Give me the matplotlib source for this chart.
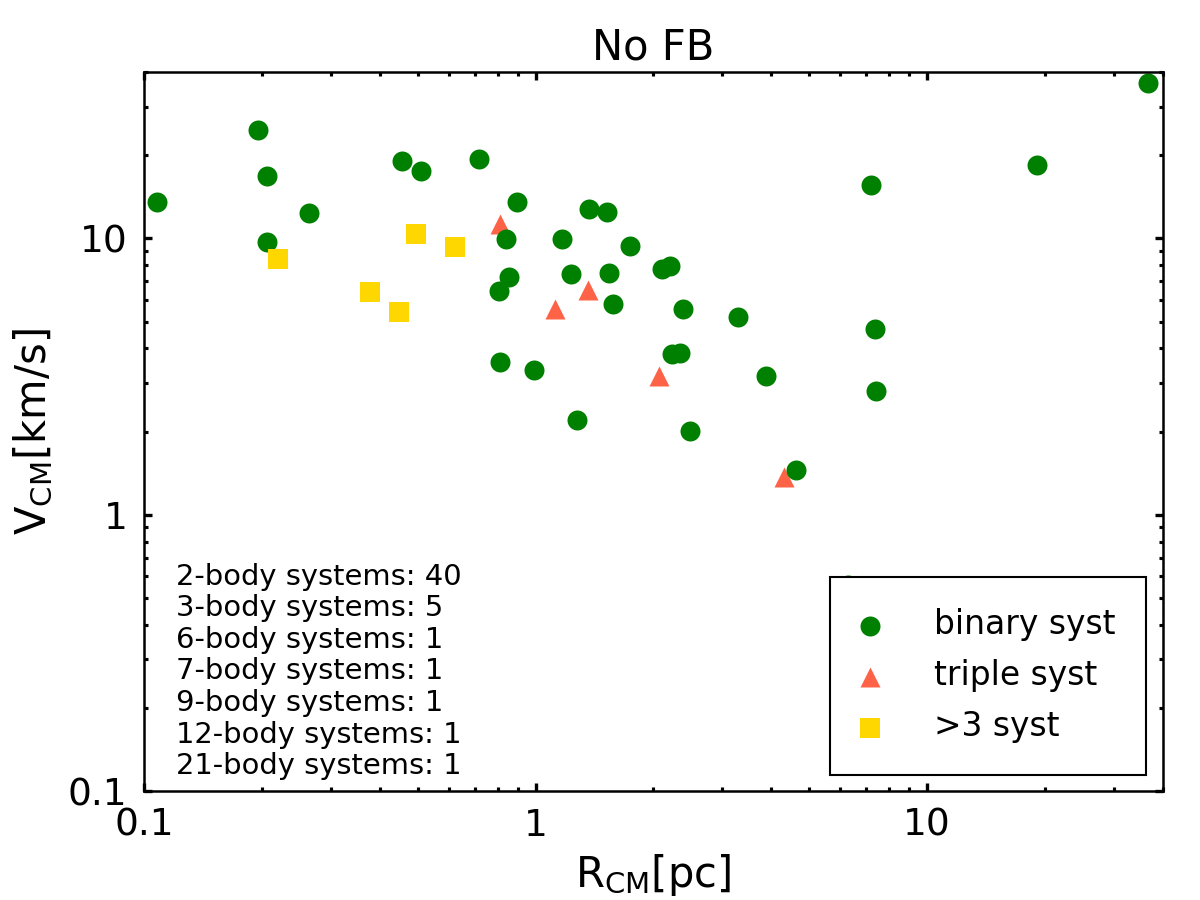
import numpy as np
import matplotlib.pyplot as plt

# binary systems (R_CM [pc], V_CM [km/s])
bin_r = [0.196, 0.108, 0.2065, 0.2635, 0.2065, 0.456, 0.509, 0.716, 0.895, 0.841,
         1.166, 1.372, 1.525, 1.743, 0.857, 0.805, 1.230, 1.543, 1.580, 0.811,
         0.989, 1.279, 2.104, 2.207, 2.377, 3.293, 2.232, 2.340, 3.88, 2.483,
         7.19, 7.365, 7.40, 19.06, 36.6, 4.62, 6.28, 0.092]
bin_v = [24.7, 13.5, 16.8, 12.35, 9.67, 19.1, 17.6, 19.3, 13.5, 9.94,
         9.92, 12.8, 12.45, 9.36, 7.25, 6.47, 7.45, 7.52, 5.77, 3.56,
         3.35, 2.21, 7.77, 7.94, 5.55, 5.19, 3.81, 3.84, 3.19, 2.005,
         15.6, 4.71, 2.81, 18.4, 36.4, 1.449, 0.556, 20.8]

# triple systems
tri_r = [0.811, 1.12, 1.364, 2.064, 4.31]
tri_v = [11.27, 5.55, 6.50, 3.19, 1.37]

# >3 body systems
big_r = [0.2203, 0.496, 0.622, 0.3784, 0.448]
big_v = [8.45, 10.34, 9.33, 6.38, 5.41]

counts = [("2", 40), ("3", 5), ("6", 1), ("7", 1), ("9", 1), ("12", 1), ("21", 1)]

fig = plt.figure(figsize=(8, 6), dpi=150)
ax = fig.add_axes([0.12, 0.121, 0.849, 0.799])

s = 92
tri = ax.scatter(tri_r, tri_v, s=s, marker='^', color='tomato', linewidths=0)
binary = ax.scatter(bin_r, bin_v, s=s, marker='o', color='green', linewidths=0)
big = ax.scatter(big_r, big_v, s=s, marker='s', color='gold', linewidths=0)

ax.set_xscale('log')
ax.set_yscale('log')
ax.set_xlim(0.1, 40)
ax.set_ylim(0.1, 40)
ax.set_xticks([0.1, 1, 10])
ax.set_xticklabels(['0.1', '1', '10'])
ax.set_yticks([0.1, 1, 10])
ax.set_yticklabels(['0.1', '1', '10'])

ax.tick_params(which='both', direction='in', top=True, right=True, labelsize=18, pad=8)
ax.tick_params(which='major', length=4, width=1.6)
ax.tick_params(which='minor', length=2, width=1.5)
for sp in ax.spines.values():
    sp.set_linewidth(1.2)

ax.set_xlabel(r'R$_{\rm CM}$[pc]', fontsize=20, labelpad=4)
ax.set_ylabel(r'V$_{\rm CM}$[km/s]', fontsize=20, labelpad=6)
ax.set_title('No FB', fontsize=20, pad=6)

txt = "\n".join("%s-body systems: %d" % (n, c) for n, c in counts)
ax.text(0.031, 0.015, txt, transform=ax.transAxes, fontsize=13.9,
        va='bottom', ha='left', linespacing=1.165)

leg = ax.legend([binary, tri, big], ['binary syst', 'triple syst', '>3 syst'],
                loc='lower right', fontsize=15.8, scatterpoints=1, fancybox=False,
                framealpha=1, edgecolor='black', borderpad=0.95, handlelength=0.55,
                handletextpad=1.65, labelspacing=0.55, borderaxespad=0.5)
leg.get_frame().set_linewidth(1.0)

plt.savefig('out.png', dpi=150)
